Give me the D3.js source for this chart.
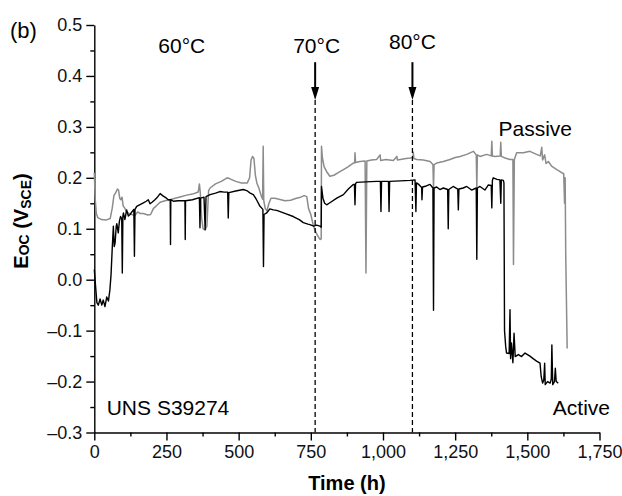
<!DOCTYPE html>
<html>
<head>
<meta charset="utf-8">
<script src="https://cdn.jsdelivr.net/npm/d3@7"></script>
<style>
  body { margin: 0; background: #fff; }
  text { font-family: "Liberation Sans", Arial, Helvetica, sans-serif; }
</style>
</head>
<body>
<div id="chart"></div>
<script>
(function () {

  /* data: [time (h), Eoc (V vs SCE)] */
  // passive specimen (grey trace)
  var passiveSeries = [
    [0,0.21],[3,0.16],[7,0.13],[12,0.122],[25,0.118],[40,0.117],[55,0.12],[62,0.14],[68,0.165],[75,0.172],
    [80,0.178],[84,0.176],[88,0.16],[92,0.157],[96,0.162],[100,0.145],[106,0.14],[112,0.133],[120,0.13],
    [130,0.128],[140,0.126],[150,0.133],[158,0.13],[170,0.13],[185,0.127],[195,0.128],[205,0.14],[215,0.145],
    [228,0.152],[245,0.155],[262,0.157],[280,0.16],[300,0.163],[320,0.166],[340,0.168],[360,0.172],[364,0.188],
    [367,0.172],[372,0.12],[377,0.1],[384,0.098],[390,0.105],[396,0.175],[401,0.18],[420,0.188],[440,0.193],
    [460,0.2],[470,0.198],[490,0.193],[510,0.19],[530,0.19],[538,0.2],[543,0.235],[548,0.242],[553,0.238],
    [558,0.205],[563,0.19],[570,0.18],[578,0.165],[583,0.158],[585,0.262],[587,0.155],[592,0.14],[598,0.135],
    [605,0.15],[612,0.16],[625,0.16],[640,0.158],[660,0.155],[680,0.156],[700,0.16],[715,0.162],[727,0.165],
    [736,0.163],[742,0.14],[750,0.128],[758,0.108],[766,0.095],[775,0.085],[782,0.079],[786,0.08],[787,0.262],
    [790,0.24],[796,0.222],[805,0.212],[816,0.203],[830,0.205],[845,0.21],[863,0.216],[880,0.222],[897,0.229],
    [902,0.229],[903,0.249],[905,0.23],[920,0.232],[938,0.233],[941,0.013],[944,0.233],[960,0.235],[978,0.236],
    [990,0.245],[992,0.234],[1010,0.236],[1036,0.234],[1048,0.242],[1050,0.235],[1060,0.236],[1080,0.238],
    [1094,0.239],[1104,0.24],[1105,0.25],[1107,0.238],[1117,0.236],[1140,0.235],[1163,0.232],[1173,0.226],
    [1175,0.18],[1177,0.226],[1186,0.229],[1209,0.232],[1232,0.236],[1250,0.24],[1267,0.242],[1290,0.246],
    [1313,0.252],[1323,0.245],[1325,0.18],[1327,0.245],[1336,0.242],[1359,0.246],[1375,0.243],[1377,0.272],
    [1379,0.243],[1388,0.242],[1406,0.243],[1408,0.27],[1410,0.242],[1423,0.239],[1440,0.236],[1450,0.236],
    [1452,0.03],[1455,0.236],[1463,0.249],[1486,0.249],[1509,0.252],[1532,0.246],[1545,0.243],[1550,0.26],
    [1553,0.235],[1560,0.245],[1565,0.228],[1573,0.232],[1584,0.223],[1602,0.216],[1619,0.21],[1626,0.208],
    [1629,0.15],[1631,0.2],[1633,0.05],[1638,-0.135]
  ];

  // active specimen (black trace)
  var activeSeries = [
    [0,0.02],[4,-0.01],[9,-0.045],[14,-0.05],[20,-0.038],[26,-0.05],[31,-0.04],[37,-0.053],[43,-0.034],
    [49,-0.042],[54,-0.02],[58,0.01],[62,0.06],[66,0.105],[69,0.065],[72,0.072],[76,0.105],[78,0.11],[83,0.092],
    [87,0.115],[91,0.124],[95,0.12],[97,0.013],[99,0.125],[101,0.131],[106,0.118],[112,0.137],[118,0.125],
    [124,0.128],[130,0.133],[137,0.138],[139,0.046],[141,0.138],[147,0.144],[160,0.148],[170,0.151],[180,0.154],
    [187,0.157],[193,0.149],[200,0.152],[210,0.157],[220,0.163],[228,0.169],[239,0.164],[250,0.16],[256,0.157],
    [263,0.157],[264,0.069],[265,0.157],[274,0.154],[290,0.155],[314,0.155],[315,0.079],[316,0.155],[340,0.157],
    [364,0.161],[366,0.102],[368,0.16],[380,0.162],[384,0.098],[387,0.163],[401,0.167],[420,0.17],[435,0.173],
    [450,0.172],[462,0.172],[464,0.121],[466,0.171],[490,0.174],[516,0.177],[528,0.175],[540,0.17],[551,0.167],
    [562,0.157],[574,0.144],[584,0.138],[586,0.026],[588,0.128],[597,0.131],[608,0.139],[620,0.137],[632,0.136],
    [660,0.13],[689,0.124],[710,0.118],[724,0.112],[740,0.109],[747,0.108],[760,0.105],[770,0.107],[782,0.105],
    [786,0.103],[787,0.183],[792,0.16],[798,0.15],[805,0.147],[816,0.151],[840,0.16],[863,0.167],[880,0.178],
    [897,0.187],[901,0.187],[903,0.147],[905,0.189],[909,0.191],[940,0.192],[978,0.193],[991,0.193],[993,0.134],
    [995,0.193],[1019,0.193],[1021,0.134],[1023,0.193],[1060,0.194],[1094,0.195],[1111,0.196],[1114,0.134],
    [1116,0.19],[1124,0.187],[1134,0.181],[1135,0.157],[1137,0.182],[1150,0.184],[1163,0.187],[1173,0.18],
    [1175,-0.06],[1177,0.18],[1186,0.182],[1197,0.177],[1209,0.18],[1224,0.177],[1226,0.1],[1228,0.177],
    [1243,0.183],[1259,0.178],[1261,0.137],[1263,0.178],[1278,0.18],[1290,0.183],[1307,0.176],[1323,0.18],
    [1325,0.04],[1327,0.18],[1336,0.183],[1353,0.176],[1365,0.186],[1375,0.185],[1377,0.141],[1379,0.195],
    [1382,0.2],[1395,0.197],[1405,0.196],[1408,0.15],[1410,0.196],[1417,0.195],[1419,0.19],[1421,-0.1],
    [1425,-0.131],[1428,-0.144],[1437,-0.145],[1440,-0.059],[1442,-0.155],[1445,-0.124],[1450,-0.163],
    [1454,-0.105],[1458,-0.151],[1469,-0.147],[1480,-0.151],[1492,-0.144],[1509,-0.15],[1520,-0.155],
    [1532,-0.16],[1544,-0.164],[1548,-0.19],[1553,-0.203],[1557,-0.197],[1560,-0.164],[1562,-0.206],
    [1570,-0.2],[1579,-0.203],[1583,-0.195],[1585,-0.128],[1588,-0.206],[1594,-0.2],[1597,-0.174],
    [1600,-0.2],[1607,-0.203]
  ];

  // ticks
  var xTicks = [0, 250, 500, 750, 1000, 1250, 1500, 1750];
  var xMinor = [125, 375, 625, 875, 1125, 1375, 1625];
  var yTicks = [-0.3, -0.2, -0.1, 0.0, 0.1, 0.2, 0.3, 0.4, 0.5];
  var yMinor = [-0.25, -0.15, -0.05, 0.05, 0.15, 0.25, 0.35, 0.45];

  // temperature changes
  var tempLabels = ["60\u00b0C", "70\u00b0C", "80\u00b0C"];
  var tempLabelTime = [303, 770, 1102];
  var tempLabelE = [0.446, 0.446, 0.452];
  var tempChangeTime = [765, 1102];


  /* setup */
  var width = 622,
      height = 496;

  var svg = d3.select("#chart")
    .append("svg")
    .attr("width", width)
    .attr("height", height)

  var x = d3.scaleLinear().domain([0, 1750]).range([94.3, 599.5])
  var y = d3.scaleLinear().domain([-0.3, 0.5]).range([432.5, 25])


  /* axes */
  var fmtX = d3.format(",")
  var fmtY = function (d) {
    var s = d3.format(".1f")(Math.abs(d))
    return d < 0 ? "\u2013" + s : s
  }

  svg.append("g")
    .attr("transform", "translate(0," + y(-0.3) + ")")
    .call(d3.axisBottom(x).tickValues(xTicks).tickFormat(fmtX).tickSize(8).tickSizeOuter(0).tickPadding(5))
  svg.append("g")
    .attr("transform", "translate(0," + y(-0.3) + ")")
    .call(d3.axisBottom(x).tickValues(xMinor).tickFormat("").tickSize(4).tickSizeOuter(0))
    .select(".domain").remove()

  svg.append("g")
    .attr("transform", "translate(" + x(0) + ",0)")
    .call(d3.axisLeft(y).tickValues(yTicks).tickFormat(fmtY).tickSize(8).tickSizeOuter(0).tickPadding(4))
  svg.append("g")
    .attr("transform", "translate(" + x(0) + ",0)")
    .call(d3.axisLeft(y).tickValues(yMinor).tickFormat("").tickSize(4).tickSizeOuter(0))
    .select(".domain").remove()

  svg.selectAll(".tick line, .domain")
    .attr("stroke", "#000")
    .attr("stroke-width", 1.4)
  svg.selectAll(".tick text")
    .attr("font-size", 18)
    .attr("fill", "#111")
    .attr("font-family", "Liberation Sans, Arial, sans-serif")


  /* traces */
  var line = d3.line()
    .x(function (d) { return x(d[0]) })
    .y(function (d) { return y(d[1]) })

  svg.append("path")
    .datum(passiveSeries)
    .attr("fill", "none")
    .attr("stroke", "#8c8c8c")
    .attr("stroke-width", 1.5)
    .attr("stroke-linejoin", "round")
    .attr("d", line)

  svg.append("path")
    .datum(activeSeries)
    .attr("fill", "none")
    .attr("stroke", "#000")
    .attr("stroke-width", 1.4)
    .attr("stroke-linejoin", "round")
    .attr("d", line)


  /* temperature markers: arrow + dashed line */
  var arrowTop = 0.427,
      arrowTip = 0.353;

  tempChangeTime.forEach(function (t) {
    svg.append("line")
      .attr("x1", x(t)).attr("x2", x(t))
      .attr("y1", y(arrowTip)).attr("y2", y(-0.3))
      .attr("stroke", "#000")
      .attr("stroke-width", 1.3)
      .attr("stroke-dasharray", "5,3")
    svg.append("line")
      .attr("x1", x(t)).attr("x2", x(t))
      .attr("y1", y(arrowTop)).attr("y2", y(arrowTip) - 8)
      .attr("stroke", "#000")
      .attr("stroke-width", 2)
    var tx = x(t), ty = y(arrowTip)
    svg.append("path")
      .attr("d", "M" + (tx - 4) + "," + (ty - 13) + "L" + (tx + 4) + "," + (ty - 13) + "L" + tx + "," + ty + "Z")
      .attr("fill", "#000")
  })

  svg.selectAll(".temp-label")
    .data(tempLabels)
    .enter().append("text")
    .attr("class", "temp-label")
    .attr("x", function (d, i) { return x(tempLabelTime[i]) })
    .attr("y", function (d, i) { return y(tempLabelE[i]) })
    .attr("text-anchor", "middle")
    .attr("font-size", 21)
    .text(function (d) { return d })


  /* other labels */
  svg.append("text")
    .attr("x", 10).attr("y", 38)
    .attr("font-size", 22)
    .text("(b)")

  svg.append("text")
    .attr("x", x(1400)).attr("y", y(0.283))
    .attr("font-size", 21)
    .text("Passive")

  svg.append("text")
    .attr("x", 610).attr("y", y(-0.265))
    .attr("text-anchor", "end")
    .attr("font-size", 21)
    .text("Active")

  svg.append("text")
    .attr("x", x(43)).attr("y", y(-0.265))
    .attr("font-size", 21)
    .text("UNS S39274")

  // axis titles
  svg.append("text")
    .attr("x", (x(0) + x(1750)) / 2).attr("y", 490)
    .attr("text-anchor", "middle")
    .attr("font-size", 20)
    .attr("font-weight", "bold")
    .text("Time (h)")

  var yTitle = svg.append("text")
    .attr("transform", "translate(28," + 221 + ") rotate(-90)")
    .attr("text-anchor", "middle")
    .attr("font-size", 20)
    .attr("font-weight", "bold")
  yTitle.append("tspan").text("E")
  yTitle.append("tspan").attr("font-size", 14).attr("dy", 1).text("OC")
  yTitle.append("tspan").attr("dy", -1).text(" (V")
  yTitle.append("tspan").attr("font-size", 14).attr("dy", 3).text("SCE")
  yTitle.append("tspan").attr("dy", -3).text(")")

})()
</script>
</body>
</html>
